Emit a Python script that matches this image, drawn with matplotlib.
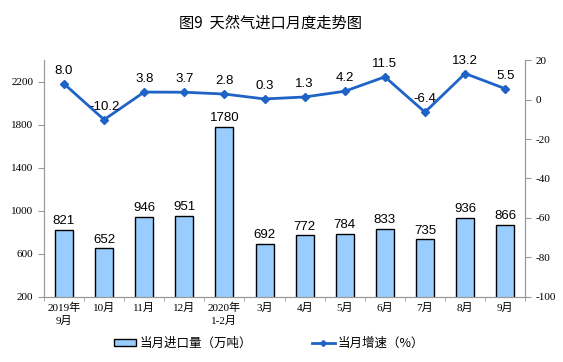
import matplotlib.pyplot as plt
import numpy as np
from matplotlib.lines import Line2D
from matplotlib.patches import Patch

plt.rcParams['font.family'] = ['Liberation Sans', 'Noto Sans CJK SC']
plt.rcParams['axes.unicode_minus'] = False

months = ['2019年\n9月', '10月', '11月', '12月', '2020年\n1-2月', '3月', '4月',
          '5月', '6月', '7月', '8月', '9月']
imports = [821, 652, 946, 951, 1780, 692, 772, 784, 833, 735, 936, 866]
growth = [8.0, -10.2, 3.8, 3.7, 2.8, 0.3, 1.3, 4.2, 11.5, -6.4, 13.2, 5.5]

bar_color = '#99CCFF'
line_color = '#1F63C6'
serif = ['Liberation Serif', 'Noto Sans CJK SC']

fig = plt.figure(figsize=(5.63, 3.62), dpi=100)
ax = fig.add_axes([0.078, 0.18, 0.855, 0.654])
x = np.arange(len(months))

ax.bar(x, imports, width=0.45, bottom=0, color=bar_color, edgecolor='black', linewidth=1.0, zorder=2)
ax.set_ylim(200, 2400)
ax.set_yticks(np.arange(200, 2201, 400))
ax.set_xlim(-0.5, len(months) - 0.5)
ax.set_xticks(x)
ax.set_xticklabels(months, fontsize=8, family=serif, linespacing=1.4)
ax.set_xticks(np.arange(-0.5, len(months), 1), minor=True)
ax.tick_params(axis='x', which='major', length=0, pad=4)
ax.tick_params(axis='x', which='minor', length=3, color='#999999')
for lab in ax.get_yticklabels():
    lab.set_family(serif)
ax.tick_params(axis='y', labelsize=8, length=4, color='#999999')
for v, xi in zip(imports, x):
    ax.text(xi, v + 25, str(v), ha='center', va='bottom', fontsize=9.5)

ax2 = ax.twinx()
ax2.plot(x, growth, color=line_color, linewidth=2, marker='D', markersize=4, zorder=3)
ax2.set_ylim(-100, 20)
ax2.set_yticks(np.arange(-100, 21, 20))
for lab in ax2.get_yticklabels():
    lab.set_family(serif)
ax2.tick_params(axis='y', labelsize=8, length=4, color='#999999')
for g, xi in zip(growth, x):
    ax2.text(xi, g + 3.5, f'{g:.1f}', ha='center', va='bottom', fontsize=9.5)

for a in (ax, ax2):
    for s in a.spines.values():
        s.set_color('#999999')
    a.spines['top'].set_visible(False)

fig.text(0.48, 0.935, '图9  天然气进口月度走势图', ha='center', va='center',
         fontsize=11, family=['Noto Sans CJK SC'])

handles = [Patch(facecolor=bar_color, edgecolor='black', linewidth=1.0),
           Line2D([0], [0], color=line_color, linewidth=2, marker='D', markersize=3)]
fig.legend(handles, ['当月进口量（万吨）', '当月增速（%）'], loc='center',
           bbox_to_anchor=(0.478, 0.052), ncol=2, frameon=False,
           columnspacing=4.8, handlelength=1.8, handleheight=0.45, handletextpad=0.25,
           prop={'family': ['Noto Sans CJK SC'], 'size': 9})

fig.savefig('out.png', dpi=100)
